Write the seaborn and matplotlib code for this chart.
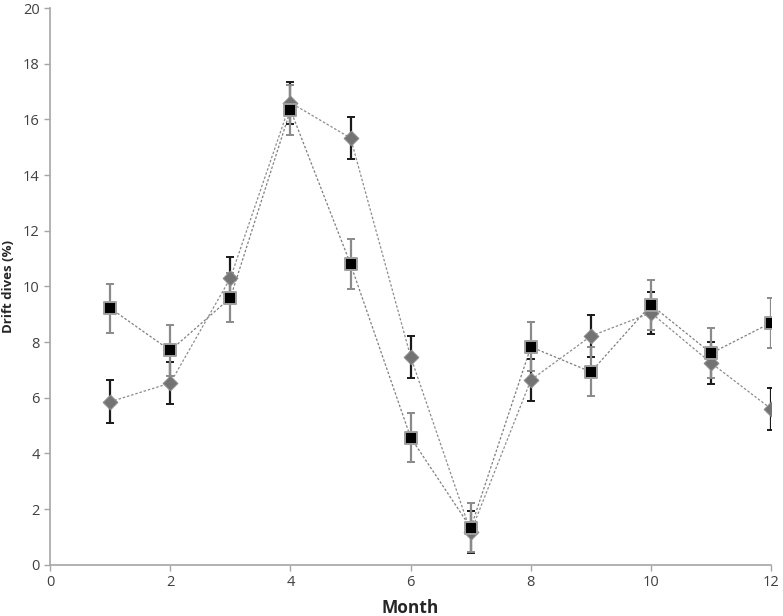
import numpy as np
import pandas as pd
import matplotlib
matplotlib.use("Agg")
import matplotlib.pyplot as plt
import seaborn as sns

### Dados
meses = [1, 2, 3, 4, 5, 6, 7, 8, 9, 10, 11, 12]
quadrados = [9.22, 7.70, 9.59, 16.34, 10.80, 4.57, 1.33, 7.83, 6.93, 9.34, 7.60, 8.70]
erro_quadrados = [0.88, 0.90, 0.88, 0.90, 0.90, 0.88, 0.88, 0.88, 0.88, 0.90, 0.90, 0.90]
losangos = [5.86, 6.53, 10.30, 16.60, 15.33, 7.47, 1.18, 6.64, 8.22, 9.05, 7.25, 5.60]
erro_losangos = [0.77, 0.77, 0.75, 0.75, 0.77, 0.75, 0.75, 0.77, 0.75, 0.75, 0.75, 0.77]

df = pd.DataFrame({"Month": meses * 2,
                   "Drift": quadrados + losangos,
                   "Erro": erro_quadrados + erro_losangos,
                   "Serie": ["quad"] * 12 + ["los"] * 12})

sns.set_style("white")
plt.rcParams["font.family"] = ["Open Sans", "DejaVu Sans"]

fig, ax = plt.subplots(figsize = (7.83, 6.16), dpi = 100)
fig.subplots_adjust(left = 0.064, right = 0.985, top = 0.987, bottom = 0.083)

# linhas tracejadas
sns.lineplot(data = df, x = "Month", y = "Drift", hue = "Serie", style = "Serie",
             palette = {"quad": "#7f7f7f", "los": "#8c8c8c"},
             dashes = {"quad": (2, 1.5), "los": (2, 1.5)}, markers = False,
             linewidth = 0.9, legend = False, ax = ax, zorder = 2)

# barras de erro
q = df[df["Serie"] == "quad"]
l = df[df["Serie"] == "los"]
ax.errorbar(l["Month"], l["Drift"], yerr = l["Erro"], fmt = "none", ecolor = "#1a1a1a",
            elinewidth = 1.6, capsize = 3, capthick = 1.4, zorder = 3)
ax.errorbar(q["Month"], q["Drift"], yerr = q["Erro"], fmt = "none", ecolor = "#8a8a8a",
            elinewidth = 1.6, capsize = 3, capthick = 1.4, zorder = 3)

# marcadores
sns.scatterplot(data = l, x = "Month", y = "Drift", marker = "D", s = 55,
                color = "#737373", edgecolor = "#8a8a8a", linewidth = 0.8, ax = ax, zorder = 4)
sns.scatterplot(data = q, x = "Month", y = "Drift", marker = "s", s = 85,
                color = "black", edgecolor = "#a0a0a0", linewidth = 1.4, ax = ax, zorder = 5)

ax.set_xlim(0, 12)
ax.set_ylim(0, 20)
ax.set_xticks(range(0, 13, 2))
ax.set_yticks(range(0, 21, 2))
for s in ["top", "right"]:
    ax.spines[s].set_visible(False)
for s in ["left", "bottom"]:
    ax.spines[s].set_color("#a6a6a6")
    ax.spines[s].set_linewidth(1.2)
ax.tick_params(axis = "both", which = "major", length = 4, width = 1, color = "#a6a6a6",
               direction = "out", labelsize = 10.5, labelcolor = "#404040", bottom = True, left = True)
ax.set_xlabel("Month", fontsize = 12.5, fontweight = "bold", labelpad = 6)
ax.set_ylabel("Drift dives (%)", fontsize = 9.5, fontweight = "bold", labelpad = 6)
ax.grid(False)

plt.savefig("out.png", dpi = 100)
